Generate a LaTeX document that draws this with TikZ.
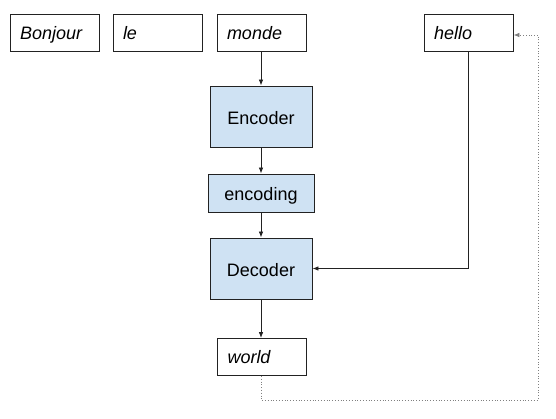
\documentclass[tikz,border=0pt]{standalone}
\usepackage{fontspec}
\setmainfont{Liberation Sans}
\usetikzlibrary{arrows.meta}
\definecolor{boxblue}{HTML}{CFE2F3}
\definecolor{edge}{HTML}{222222}
\tikzset{
  word/.style={draw=edge, line width=0.8pt, fill=white, minimum height=37pt,
    text width=69pt, inner xsep=10pt, inner ysep=0pt, align=left,
    text height=13pt, text depth=0pt,
    font=\fontsize{18}{21}\selectfont\itshape},
  block/.style={draw=edge, line width=0.8pt, fill=boxblue, inner sep=0pt,
    text height=15.5pt, text depth=0pt,
    font=\fontsize{18}{21}\selectfont},
  conn/.style={draw=edge, line width=0.8pt, -{Latex[length=6pt,width=4.5pt]}},
  dotconn/.style={draw=gray, line width=0.8pt, dotted, -{Latex[length=6pt,width=4.5pt]}}
}
\begin{document}
\begin{tikzpicture}[x=1pt,y=-1pt]
\useasboundingbox (0,0) rectangle (556,419);
\node[word] (bonjour) at (54.5,33) {Bonjour};
\node[word] (le) at (157.5,33) {le};
\node[word] (monde) at (261.5,33) {monde};
\node[word] (hello) at (468.5,33) {hello};
\node[block, minimum width=102pt, minimum height=61pt] (enc) at (261,116.5) {Encoder};
\node[block, minimum width=106pt, minimum height=38pt] (encoding) at (261,193) {encoding};
\node[block, minimum width=102pt, minimum height=61pt] (dec) at (261,268.5) {Decoder};
\node[word] (world) at (262,357) {world};
\coordinate (c1) at (261,400);
\coordinate (c2) at (538,400);
\coordinate (c3) at (538,35);
\draw[conn] (monde.south -| enc.north) -- (enc.north);
\draw[conn] (enc.south) -- (encoding.north);
\draw[conn] (encoding.south) -- (dec.north);
\draw[conn] (dec.south) -- (dec.south |- world.north);
\draw[conn] (hello.south) |- (dec.east);
\draw[dotconn] (world.south -| c1) -- (c1) -- (c2) -- (c3) -- (hello.east |- c3);
\end{tikzpicture}
\end{document}
